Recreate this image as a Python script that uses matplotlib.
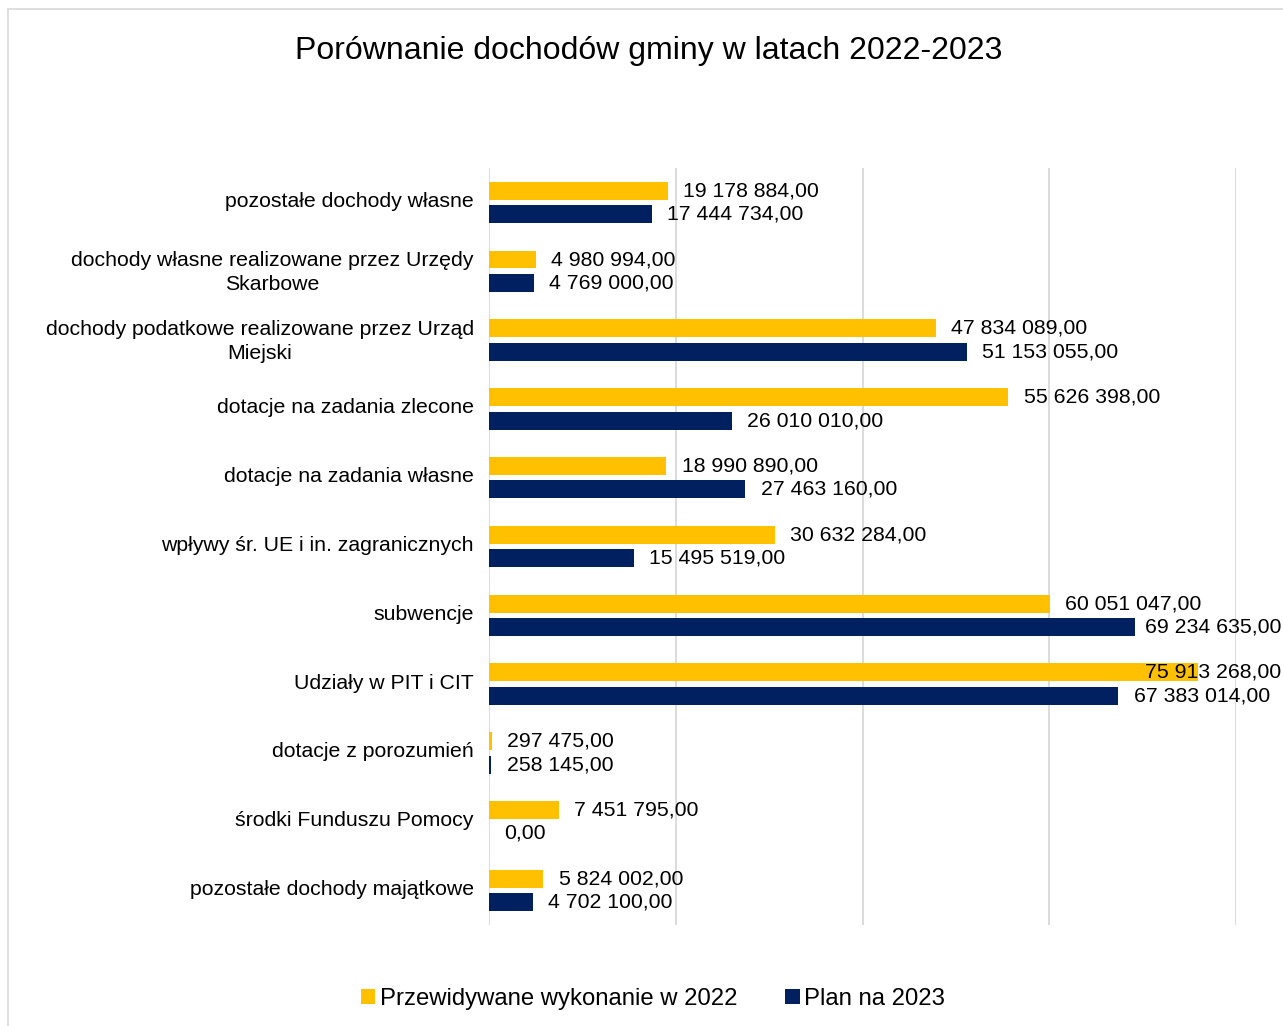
import matplotlib
matplotlib.use("Agg")
import matplotlib.pyplot as plt
from matplotlib.patches import Rectangle, Patch
from matplotlib.transforms import ScaledTranslation
import numpy as np

plt.rcParams['font.family'] = ['Liberation Sans', 'DejaVu Sans']

categories = [
    "pozostałe dochody własne",
    "dochody własne realizowane przez Urzędy\nSkarbowe",
    "dochody podatkowe realizowane przez Urząd\nMiejski",
    "dotacje na zadania zlecone",
    "dotacje na zadania własne",
    "wpływy śr. UE i in. zagranicznych",
    "subwencje",
    "Udziały w PIT i CIT",
    "dotacje z porozumień",
    "środki Funduszu Pomocy",
    "pozostałe dochody majątkowe",
]
wykonanie_2022 = [19178884.00, 4980994.00, 47834089.00, 55626398.00, 18990890.00,
                  30632284.00, 60051047.00, 75913268.00, 297475.00, 7451795.00, 5824002.00]
plan_2023 = [17444734.00, 4769000.00, 51153055.00, 26010010.00, 27463160.00,
             15495519.00, 69234635.00, 67383014.00, 258145.00, 0.00, 4702100.00]
series_names = ["Przewidywane wykonanie w 2022", "Plan na 2023"]

yellow = "#FFC000"
navy = "#002060"

W, H = 1283, 1026
fig = plt.figure(figsize=(W / 100, H / 100), dpi=100)
fig.patch.set_facecolor("white")
fig.patches.append(Rectangle((8 / W, -0.01), 1.02, (1026 - 9) / H + 0.01,
                             transform=fig.transFigure, fill=False,
                             edgecolor="#D9D9D9", linewidth=1.2))

left, right, top, bottom = 489, 1236, 168, 925
ax = fig.add_axes([left / W, 1 - bottom / H, (right - left) / W, (bottom - top) / H])

n = len(categories)
y = np.arange(n)
bh = 0.26
off = 0.17
ax.barh(y - off, wykonanie_2022, height=bh, color=yellow, zorder=2)
ax.barh(y + off, plan_2023, height=bh, color=navy, zorder=2)

xmax = 80e6
label_gap = 1.65e6
right_limit = xmax * (1281 - left) / (right - left)


def fmt(v):
    s = f"{v:,.2f}"
    return s.replace(",", " ").replace(".", ",")


fs = 15.3
for vals, yy in ((wykonanie_2022, y - off), (plan_2023, y + off)):
    for i in range(n):
        v = vals[i]
        if v > 0.85 * xmax:
            ax.text(right_limit, yy[i], fmt(v), va="center", ha="right",
                    fontsize=fs, color="#000000", zorder=3, clip_on=False)
        else:
            ax.text(v + label_gap, yy[i], fmt(v), va="center", ha="left",
                    fontsize=fs, color="#000000", zorder=3, clip_on=False)

ax.set_xlim(0, xmax)
ax.set_ylim(n - 0.5, -0.5)
ax.set_xticks([0, 20e6, 40e6, 60e6, 80e6])
ax.set_xticklabels([])
ax.tick_params(axis="x", length=0)
ax.xaxis.grid(True, color="#D9D9D9", linewidth=1.3, zorder=0)
ax.set_axisbelow(True)
ax.set_yticks(y)
ax.set_yticklabels(categories, fontsize=15.3, ha="right", multialignment="center",
                   linespacing=1.35)
ax.tick_params(axis="y", length=0, pad=11)
shift = ScaledTranslation(0, 3 / 100, fig.dpi_scale_trans)
for lab in ax.get_yticklabels():
    lab.set_transform(lab.get_transform() + shift)
for s in ax.spines.values():
    s.set_visible(False)
ax.set_facecolor("none")

fig.text(649 / W, 1 - 51 / H, "Porównanie dochodów gminy w latach 2022-2023",
         ha="center", va="center", fontsize=23)

handles = [Patch(facecolor=yellow), Patch(facecolor=navy)]
fig.legend(handles, series_names, loc="center", bbox_to_anchor=(653 / W, 1 - 999 / H),
           ncol=2, frameon=False, fontsize=17.2, handlelength=0.6, handleheight=0.6,
           handletextpad=0.2, columnspacing=2.0)

fig.savefig("out.png", dpi=100)
